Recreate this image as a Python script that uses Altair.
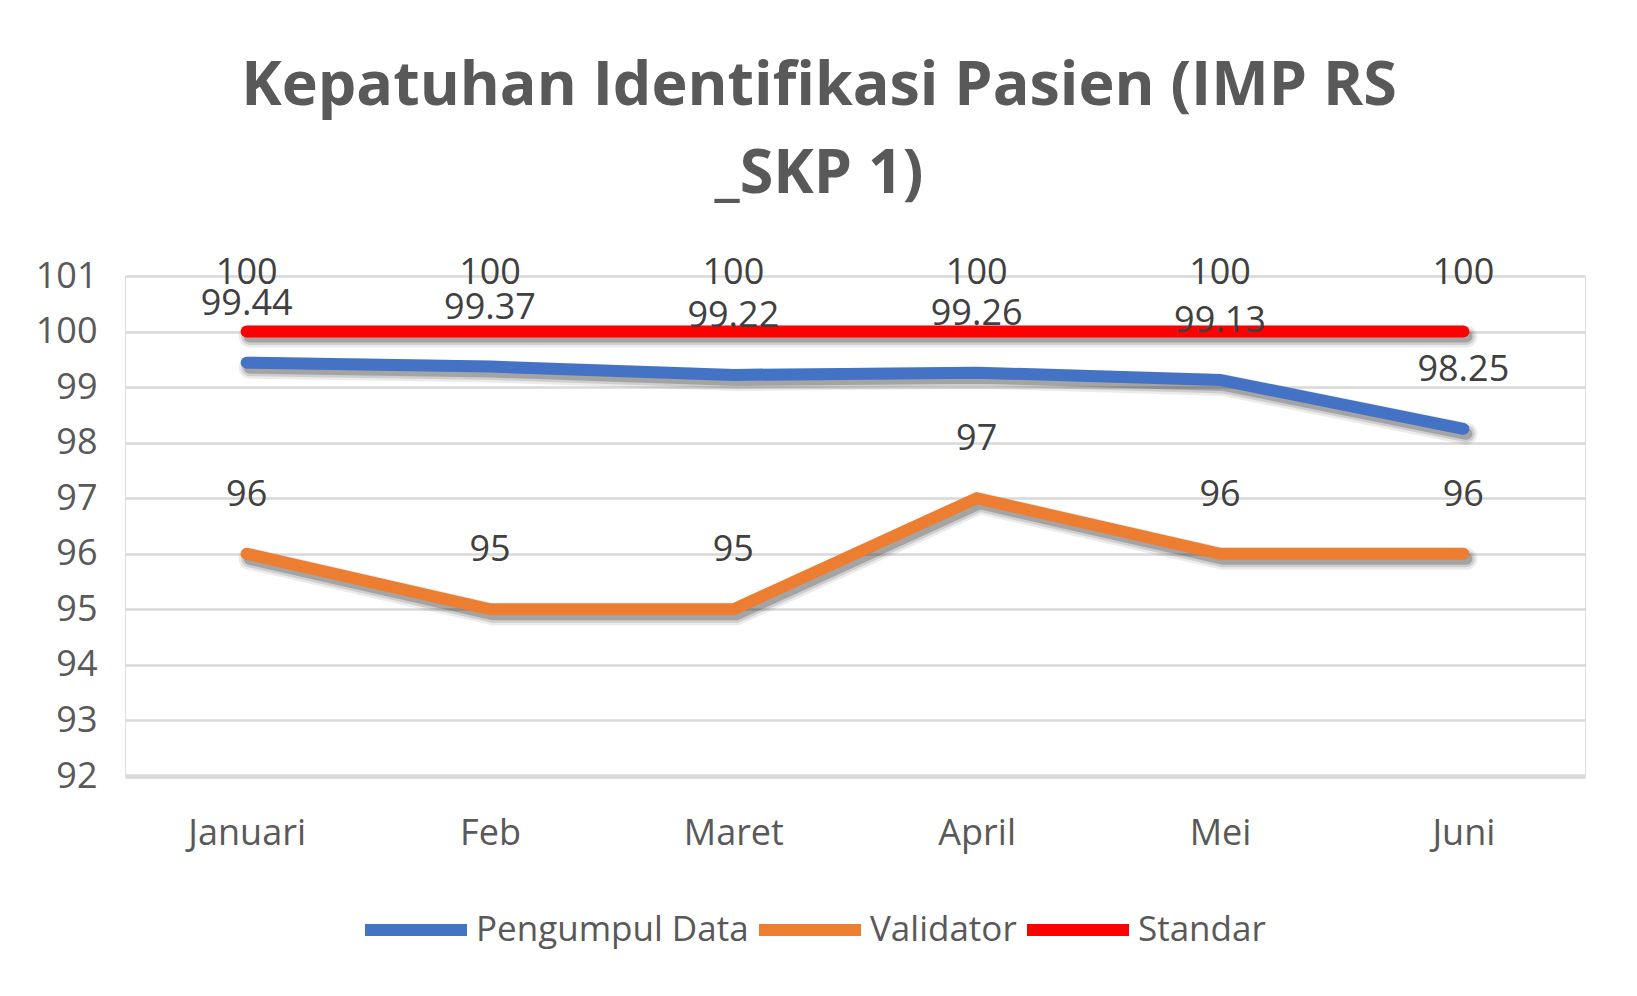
import altair as alt
import pandas as pd

months = ["Januari", "Feb", "Maret", "April", "Mei", "Juni"]
pengumpul = [99.44, 99.37, 99.22, 99.26, 99.13, 98.25]
validator = [96, 95, 95, 97, 96, 96]
standar = [100, 100, 100, 100, 100, 100]
series_names = ["Pengumpul Data", "Validator", "Standar"]
series_colors = ["#4472C4", "#ED7D31", "#FF0000"]
y_ticks = [92, 93, 94, 95, 96, 97, 98, 99, 100, 101]
title_lines = ["Kepatuhan Identifikasi Pasien (IMP RS", "_SKP 1)"]

rows = []
for name, vals in zip(series_names, [pengumpul, validator, standar]):
    for m, v in zip(months, vals):
        rows.append({"Bulan": m, "Seri": name, "Nilai": v, "Label": f"{v:g}"})
df = pd.DataFrame(rows)

FONT = "Open Sans"

x = alt.X(
    "Bulan:N",
    sort=months,
    scale=alt.Scale(type="point", padding=0.5),
    axis=alt.Axis(
        title=None, labelAngle=0, labelFontSize=36, labelColor="#595959",
        labelFont=FONT, labelPadding=40, ticks=False, domain=True,
        domainColor="#D9D9D9", domainWidth=4.5, grid=False,
    ),
)
y = alt.Y(
    "Nilai:Q",
    scale=alt.Scale(domain=[92, 101], nice=False, zero=False),
    axis=alt.Axis(
        title=None, values=y_ticks, grid=True, gridColor="#D9D9D9",
        gridWidth=2.5, domain=False, ticks=False, labelPadding=28,
        labelFontSize=36, labelColor="#595959", labelFont=FONT,
    ),
)

base = alt.Chart(df)

shadows = [
    base.mark_line(
        color="black", opacity=op, strokeWidth=sw, yOffset=5, xOffset=3,
        strokeCap="round", strokeJoin="miter",
    ).encode(x=x, y=y, detail="Seri:N")
    for sw, op in [(22, 0.08), (17, 0.12), (12, 0.2)]
]

lines = base.mark_line(
    strokeWidth=12, strokeCap="round", strokeJoin="miter"
).encode(
    x=x,
    y=y,
    color=alt.Color(
        "Seri:N",
        sort=series_names,
        scale=alt.Scale(domain=series_names, range=series_colors),
        legend=alt.Legend(
            title=None, orient="none", legendX=234, legendY=597,
            direction="horizontal", symbolType="stroke",
            symbolStrokeWidth=12, symbolSize=10404, labelFontSize=35,
            labelFont=FONT, labelColor="#595959", labelOffset=3,
            columnPadding=-14, labelLimit=0,
        ),
    ),
)

labels = base.mark_text(
    dy=-59, fontSize=36, font=FONT, color="#404040", baseline="middle"
).encode(x=x, y=y, text="Label:N")

chart = alt.layer(*shadows, lines, labels).properties(
    width=1460,
    height=500,
    padding={"left": 117, "top": 268, "right": 44, "bottom": 212},
    autosize=alt.AutoSizeParams(type="none"),
    title=alt.TitleParams(
        text=title_lines, font=FONT, fontSize=61, fontWeight="bold",
        color="#595959", anchor="middle", frame="group", dx=-36,
        offset=49, lineHeight=88,
    ),
).configure_view(strokeWidth=0).configure(background="white")

chart.save("out.html", embed_options={"renderer": "svg", "actions": False})
